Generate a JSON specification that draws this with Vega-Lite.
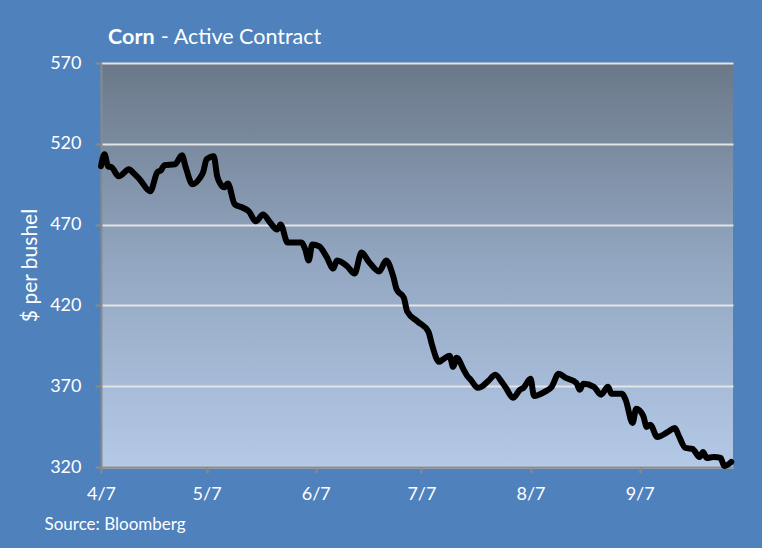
{
  "$schema": "https://vega.github.io/schema/vega-lite/v6.json",
  "width": 632,
  "height": 404,
  "autosize": {"type": "none"},
  "padding": {"left": 101, "top": 63, "right": 29, "bottom": 81},
  "background": "#4f81bd",
  "view": {
    "stroke": null,
    "fill": {"gradient": "linear", "x1": 0, "y1": 0, "x2": 0, "y2": 1,
      "stops": [{"offset": 0, "color": "#6a7888"}, {"offset": 0.5, "color": "#93a7c2"}, {"offset": 1, "color": "#b4c9e6"}]}
  },
  "config": {
    "font": "Lato",
    "axis": {"labelFont": "Lato", "titleFont": "Lato", "labelColor": "white", "titleColor": "white", "labelFontSize": 18, "titleFontSize": 21, "titleFontWeight": "normal", "domainColor": "#8a8a8a", "domainWidth": 2, "tickColor": "#8a8a8a", "tickWidth": 2, "tickSize": 6, "labelFlush": false},
    "text": {"font": "Lato", "fontSize": 21.5, "color": "white", "align": "left", "baseline": "alphabetic"}
  },
  "datasets": {
    "corn": [
      {"date": "2014-04-07", "price": 506.1},
      {"date": "2014-04-08", "price": 513.5},
      {"date": "2014-04-09", "price": 506},
      {"date": "2014-04-10", "price": 505.5},
      {"date": "2014-04-12", "price": 499.9},
      {"date": "2014-04-15", "price": 504.2},
      {"date": "2014-04-16", "price": 502.4},
      {"date": "2014-04-18", "price": 498},
      {"date": "2014-04-21", "price": 490.6},
      {"date": "2014-04-23", "price": 502.4},
      {"date": "2014-04-24", "price": 503.6},
      {"date": "2014-04-25", "price": 506.7},
      {"date": "2014-04-28", "price": 507.3},
      {"date": "2014-04-30", "price": 512.9},
      {"date": "2014-05-01", "price": 506},
      {"date": "2014-05-03", "price": 494.9},
      {"date": "2014-05-05", "price": 498.6},
      {"date": "2014-05-06", "price": 502.4},
      {"date": "2014-05-07", "price": 510.4},
      {"date": "2014-05-09", "price": 512.3},
      {"date": "2014-05-10", "price": 499.9},
      {"date": "2014-05-11", "price": 494.9},
      {"date": "2014-05-12", "price": 493.1},
      {"date": "2014-05-13", "price": 495.5},
      {"date": "2014-05-15", "price": 482.5},
      {"date": "2014-05-17", "price": 480.7},
      {"date": "2014-05-19", "price": 478.2},
      {"date": "2014-05-21", "price": 472},
      {"date": "2014-05-23", "price": 476.3},
      {"date": "2014-05-25", "price": 471.4},
      {"date": "2014-05-27", "price": 467},
      {"date": "2014-05-28", "price": 470.1},
      {"date": "2014-05-30", "price": 458.9},
      {"date": "2014-06-01", "price": 458.9},
      {"date": "2014-06-03", "price": 458.9},
      {"date": "2014-06-04", "price": 454.6},
      {"date": "2014-06-05", "price": 447.8},
      {"date": "2014-06-06", "price": 457.7},
      {"date": "2014-06-08", "price": 456.5},
      {"date": "2014-06-10", "price": 450.3},
      {"date": "2014-06-12", "price": 442.8},
      {"date": "2014-06-13", "price": 447.8},
      {"date": "2014-06-16", "price": 444.1},
      {"date": "2014-06-18", "price": 439.7},
      {"date": "2014-06-20", "price": 452.7},
      {"date": "2014-06-22", "price": 447.2},
      {"date": "2014-06-25", "price": 441},
      {"date": "2014-06-27", "price": 447.8},
      {"date": "2014-06-29", "price": 437.9},
      {"date": "2014-06-30", "price": 429.8},
      {"date": "2014-07-02", "price": 424.8},
      {"date": "2014-07-03", "price": 416.1},
      {"date": "2014-07-06", "price": 409.9},
      {"date": "2014-07-09", "price": 403.7},
      {"date": "2014-07-10", "price": 395.7},
      {"date": "2014-07-12", "price": 385.1},
      {"date": "2014-07-13", "price": 386.4},
      {"date": "2014-07-15", "price": 388.9},
      {"date": "2014-07-16", "price": 382},
      {"date": "2014-07-17", "price": 387.6},
      {"date": "2014-07-19", "price": 380.2},
      {"date": "2014-07-20", "price": 376.4},
      {"date": "2014-07-21", "price": 374},
      {"date": "2014-07-23", "price": 369},
      {"date": "2014-07-24", "price": 369.6},
      {"date": "2014-07-26", "price": 373.3},
      {"date": "2014-07-28", "price": 377.1},
      {"date": "2014-07-30", "price": 372.1},
      {"date": "2014-07-31", "price": 369},
      {"date": "2014-08-02", "price": 362.8},
      {"date": "2014-08-04", "price": 367.8},
      {"date": "2014-08-05", "price": 369},
      {"date": "2014-08-07", "price": 374.6},
      {"date": "2014-08-08", "price": 364},
      {"date": "2014-08-11", "price": 366.5},
      {"date": "2014-08-13", "price": 369.6},
      {"date": "2014-08-15", "price": 377.7},
      {"date": "2014-08-17", "price": 375.2},
      {"date": "2014-08-20", "price": 372.1},
      {"date": "2014-08-21", "price": 367.8},
      {"date": "2014-08-22", "price": 371.5},
      {"date": "2014-08-25", "price": 369.6},
      {"date": "2014-08-27", "price": 364.7},
      {"date": "2014-08-29", "price": 369.6},
      {"date": "2014-08-30", "price": 365.3},
      {"date": "2014-09-02", "price": 365.3},
      {"date": "2014-09-03", "price": 361.6},
      {"date": "2014-09-05", "price": 347.3},
      {"date": "2014-09-06", "price": 356},
      {"date": "2014-09-08", "price": 351.6},
      {"date": "2014-09-09", "price": 344.8},
      {"date": "2014-09-10", "price": 346.1},
      {"date": "2014-09-12", "price": 338.6},
      {"date": "2014-09-15", "price": 341.7},
      {"date": "2014-09-17", "price": 344.2},
      {"date": "2014-09-18", "price": 339.8},
      {"date": "2014-09-20", "price": 331.8},
      {"date": "2014-09-22", "price": 331.2},
      {"date": "2014-09-24", "price": 326.2},
      {"date": "2014-09-25", "price": 329.3},
      {"date": "2014-09-26", "price": 325.6},
      {"date": "2014-09-28", "price": 326.2},
      {"date": "2014-09-30", "price": 325.6},
      {"date": "2014-10-01", "price": 320.6},
      {"date": "2014-10-03", "price": 323.1}
    ]
  },
  "layer": [
    {
      "data": {"name": "corn"},
      "mark": {"type": "line", "color": "black", "strokeWidth": 6, "strokeCap": "round", "strokeJoin": "round", "interpolate": "monotone"},
      "encoding": {
        "x": {
          "field": "date", "type": "temporal",
          "scale": {"type": "utc", "domain": [{"year": 2014, "month": 4, "date": 7, "utc": true}, {"year": 2014, "month": 10, "date": 3, "hours": 12, "utc": true}]},
          "axis": {
            "values": [
              {"year": 2014, "month": 4, "date": 7, "utc": true},
              {"year": 2014, "month": 5, "date": 7, "utc": true},
              {"year": 2014, "month": 6, "date": 7, "utc": true},
              {"year": 2014, "month": 7, "date": 7, "utc": true},
              {"year": 2014, "month": 8, "date": 7, "utc": true},
              {"year": 2014, "month": 9, "date": 7, "utc": true}
            ],
            "format": "%-m/%-d", "grid": false, "labelPadding": 12, "labelAngle": 0, "labelFlush": false,
            "title": "Source: Bloomberg", "titleFontSize": 17, "titleAnchor": "start", "titleAlign": "left", "titleBaseline": "middle", "titleX": -57, "titleY": 57
          }
        },
        "y": {
          "field": "price", "type": "quantitative",
          "scale": {"domain": [320, 570], "nice": false, "zero": false},
          "axis": {
            "values": [320, 370, 420, 470, 520, 570],
            "grid": true, "gridColor": "#e4e4e4", "gridWidth": 2, "labelPadding": 14, "labelFlush": false,
            "title": "$ per bushel", "titleAngle": -90, "titleX": -71, "titleY": 202, "titleAlign": "center", "titleBaseline": "middle"
          }
        }
      }
    },
    {
      "data": {"values": [{}]},
      "mark": {"type": "text", "fontWeight": "bold"},
      "encoding": {
        "x": {"datum": {"year": 2014, "month": 4, "date": 9, "utc": true}, "type": "temporal"},
        "y": {"datum": 582, "type": "quantitative"},
        "text": {"value": "Corn"}
      }
    },
    {
      "data": {"values": [{}]},
      "mark": {"type": "text"},
      "encoding": {
        "x": {"datum": {"year": 2014, "month": 4, "date": 24, "utc": true}, "type": "temporal"},
        "y": {"datum": 582, "type": "quantitative"},
        "text": {"value": "- Active Contract"}
      }
    }
  ]
}
